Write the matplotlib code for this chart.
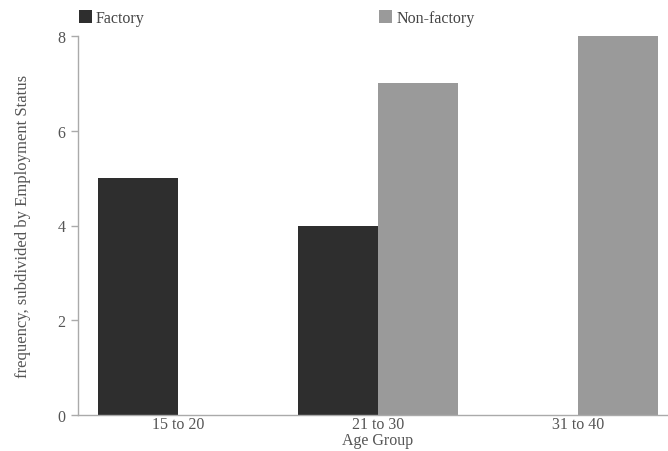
import matplotlib
matplotlib.use("Agg")
import matplotlib.pyplot as plt
import numpy as np

categories = ["15 to 20", "21 to 30", "31 to 40"]
series_names = ["Factory", "Non-factory"]
factory = [5, 4, 0]
non_factory = [0, 7, 8]
y_ticks = [0, 2, 4, 6, 8]

plt.rcParams['font.family'] = ['Liberation Serif', 'DejaVu Serif']

W, H = 668, 452
fig = plt.figure(figsize=(W / 100, H / 100), dpi=100)
ax = fig.add_axes([78 / W, (H - 416) / H, 600 / W, (416 - 37) / H])

x = np.arange(len(categories))
bw = 0.4
b1 = ax.bar(x - bw / 2, factory, width=bw, color="#2e2e2e", label=series_names[0])
b2 = ax.bar(x + bw / 2, non_factory, width=bw, color="#9a9a9a", label=series_names[1])

ax.set_xlim(-0.5, 2.5)
ax.set_ylim(0, 8)
ax.set_yticks(y_ticks)
ax.set_xticks(x)
ax.set_xticklabels(categories)

for s in ["top", "right"]:
    ax.spines[s].set_visible(False)
for s in ["left", "bottom"]:
    ax.spines[s].set_color("#aaaaaa")
    ax.spines[s].set_linewidth(1)

ax.tick_params(axis="y", length=5, width=1, color="#aaaaaa", labelcolor="#555555", labelsize=11.5, pad=4)
ax.tick_params(axis="x", length=0, labelcolor="#555555", labelsize=11.5, pad=0.5)

ax.set_xlabel("Age Group", color="#555555", fontsize=11.5, labelpad=0)
ax.set_ylabel("frequency, subdivided by Employment Status", color="#555555", fontsize=12, labelpad=19)

leg = fig.legend(handles=[b1, b2], labels=series_names, ncol=2, loc="upper left",
                 bbox_to_anchor=(68 / W, 1 - 0 / H), frameon=False, fontsize=11.5,
                 handlelength=0.8, handleheight=0.85, handletextpad=0.25,
                 columnspacing=14.7, borderpad=0.2)
for t in leg.get_texts():
    t.set_color("#444444")

fig.savefig("out.png", dpi=100)
